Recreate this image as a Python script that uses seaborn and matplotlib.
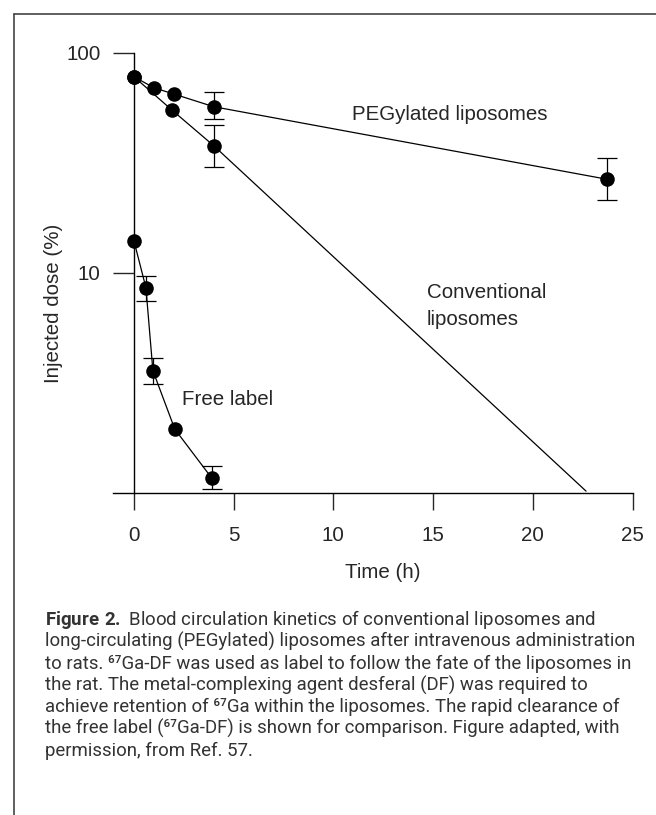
import numpy as np
import matplotlib
matplotlib.use('Agg')
import matplotlib.pyplot as plt
import seaborn as sns
from matplotlib.lines import Line2D

# values (injected dose, % ; time in h)
peg_t = [0, 1, 2, 4, 23.7]
peg_y = [78.0, 69.5, 65.1, 57.0, 26.7]
peg_err_t = [4, 23.7]
peg_err_y = [57.0, 26.7]
peg_err_lo = [50.0, 21.5]
peg_err_hi = [66.7, 33.2]

conv_t = [0, 1.9, 4]
conv_y = [78.0, 55.1, 37.9]
conv_line_t = [0, 1.9, 4, 22.67]
conv_line_y = [78.0, 55.1, 37.9, 1.02]
conv_err_t = [4]
conv_err_y = [37.9]
conv_err_lo = [30.2]
conv_err_hi = [47.1]

free_t = [0, 0.6, 0.95, 2.05, 3.9]
free_y = [14.0, 8.58, 3.6, 1.95, 1.17]
free_err_t = [0.6, 0.95, 3.9]
free_err_y = [8.58, 3.6, 1.17]
free_err_lo = [7.46, 3.12, 1.04]
free_err_hi = [9.72, 4.12, 1.33]

x_ticks = [0, 5, 10, 15, 20, 25]
y_ticks = [10, 100]

caption_lines = [
    r"$\bf{Figure\ 2.}$ Blood circulation kinetics of conventional liposomes and",
    "long-circulating (PEGylated) liposomes after intravenous administration",
    "to rats. \u2076\u2077Ga-DF was used as label to follow the fate of the liposomes in",
    "the rat. The metal-complexing agent desferal (DF) was required to",
    "achieve retention of \u2076\u2077Ga within the liposomes. The rapid clearance of",
    "the free label (\u2076\u2077Ga-DF) is shown for comparison. Figure adapted, with",
    "permission, from Ref. 57.",
]

sns.set_style('ticks')
plot_font = ['Liberation Sans', 'DejaVu Sans']
plt.rcParams['font.family'] = plot_font
plt.rcParams['mathtext.fontset'] = 'custom'
plt.rcParams['mathtext.rm'] = 'Roboto'
plt.rcParams['mathtext.bf'] = 'Roboto:bold'

fs = 14.8
fig = plt.figure(figsize=(6.56, 8.15), dpi=100)
ax = fig.add_axes([113 / 656, 322 / 815, 519.5 / 656, 440 / 815])

lw = 0.9
sns.lineplot(x=peg_t, y=peg_y, ax=ax, color='black', linewidth=lw, sort=False)
sns.lineplot(x=conv_line_t, y=conv_line_y, ax=ax, color='black', linewidth=lw, sort=False)
sns.lineplot(x=free_t, y=free_y, ax=ax, color='black', linewidth=lw, sort=False)

for t, y in [(peg_t, peg_y), (conv_t, conv_y), (free_t, free_y)]:
    sns.scatterplot(x=t, y=y, ax=ax, color='black', s=110, edgecolor='black',
                    linewidth=0, zorder=5, clip_on=False)

for t, y, lo, hi in [(peg_err_t, peg_err_y, peg_err_lo, peg_err_hi),
                     (conv_err_t, conv_err_y, conv_err_lo, conv_err_hi),
                     (free_err_t, free_err_y, free_err_lo, free_err_hi)]:
    y = np.array(y)
    ax.errorbar(t, y, yerr=[y - np.array(lo), np.array(hi) - y], fmt='none',
                ecolor='black', elinewidth=lw, capsize=7.5, capthick=lw, zorder=4)

ax.set_yscale('log')
ax.set_xlim(-1.05, 25)
ax.set_ylim(1, 100)
ax.set_xticks(x_ticks)
ax.set_xticklabels([str(v) for v in x_ticks], family=plot_font)
ax.set_yticks(y_ticks)
ax.set_yticklabels([str(v) for v in y_ticks], family=plot_font)
ax.yaxis.set_minor_locator(matplotlib.ticker.NullLocator())

sns.despine(ax=ax)
ax.spines['left'].set_position(('data', 0))
for s in ['left', 'bottom']:
    ax.spines[s].set_linewidth(1.0)
    ax.spines[s].set_color('black')
ax.tick_params(axis='y', direction='out', length=15, width=1.0, pad=9, labelsize=fs)
ax.tick_params(axis='x', direction='out', length=12, width=1.0, pad=12, labelsize=fs)

ax.set_xlabel('Time (h)', fontsize=fs, family=plot_font)
ax.xaxis.set_label_coords(0.52, -0.158)
ax.set_ylabel('Injected dose (%)', fontsize=fs, family=plot_font)
ax.yaxis.set_label_coords(-0.096, 0.432)

ax.text(10.95, 52.3, 'PEGylated liposomes', fontsize=fs, va='center', family=plot_font)
ax.text(14.7, 7.1, 'Conventional\nliposomes', fontsize=fs, va='center', linespacing=1.55,
        family=plot_font)
ax.text(2.41, 2.65, 'Free label', fontsize=fs, va='center', family=plot_font)

# caption: one text per line, font size fitted so the widest line spans like the reference
cap = []
for i, line in enumerate(caption_lines):
    cap.append(fig.text(45 / 656, 1 - (625 + i * 21.8) / 815, line, fontsize=12,
                        family=['Roboto', 'DejaVu Sans'], color='#333333',
                        va='baseline', ha='left'))
fig.canvas.draw()
r = fig.canvas.get_renderer()
w = cap[1].get_window_extent(r).width
for t in cap:
    t.set_fontsize(12 * 591 / w)

# page frame: top rule and left rule
fig.add_artist(Line2D([14 / 656, 1], [1 - 13.7 / 815] * 2, transform=fig.transFigure,
                      color='#444444', linewidth=1.2))
fig.add_artist(Line2D([14 / 656] * 2, [0, 1 - 13.7 / 815], transform=fig.transFigure,
                      color='#444444', linewidth=1.2))

fig.savefig('out.png', dpi=100)
